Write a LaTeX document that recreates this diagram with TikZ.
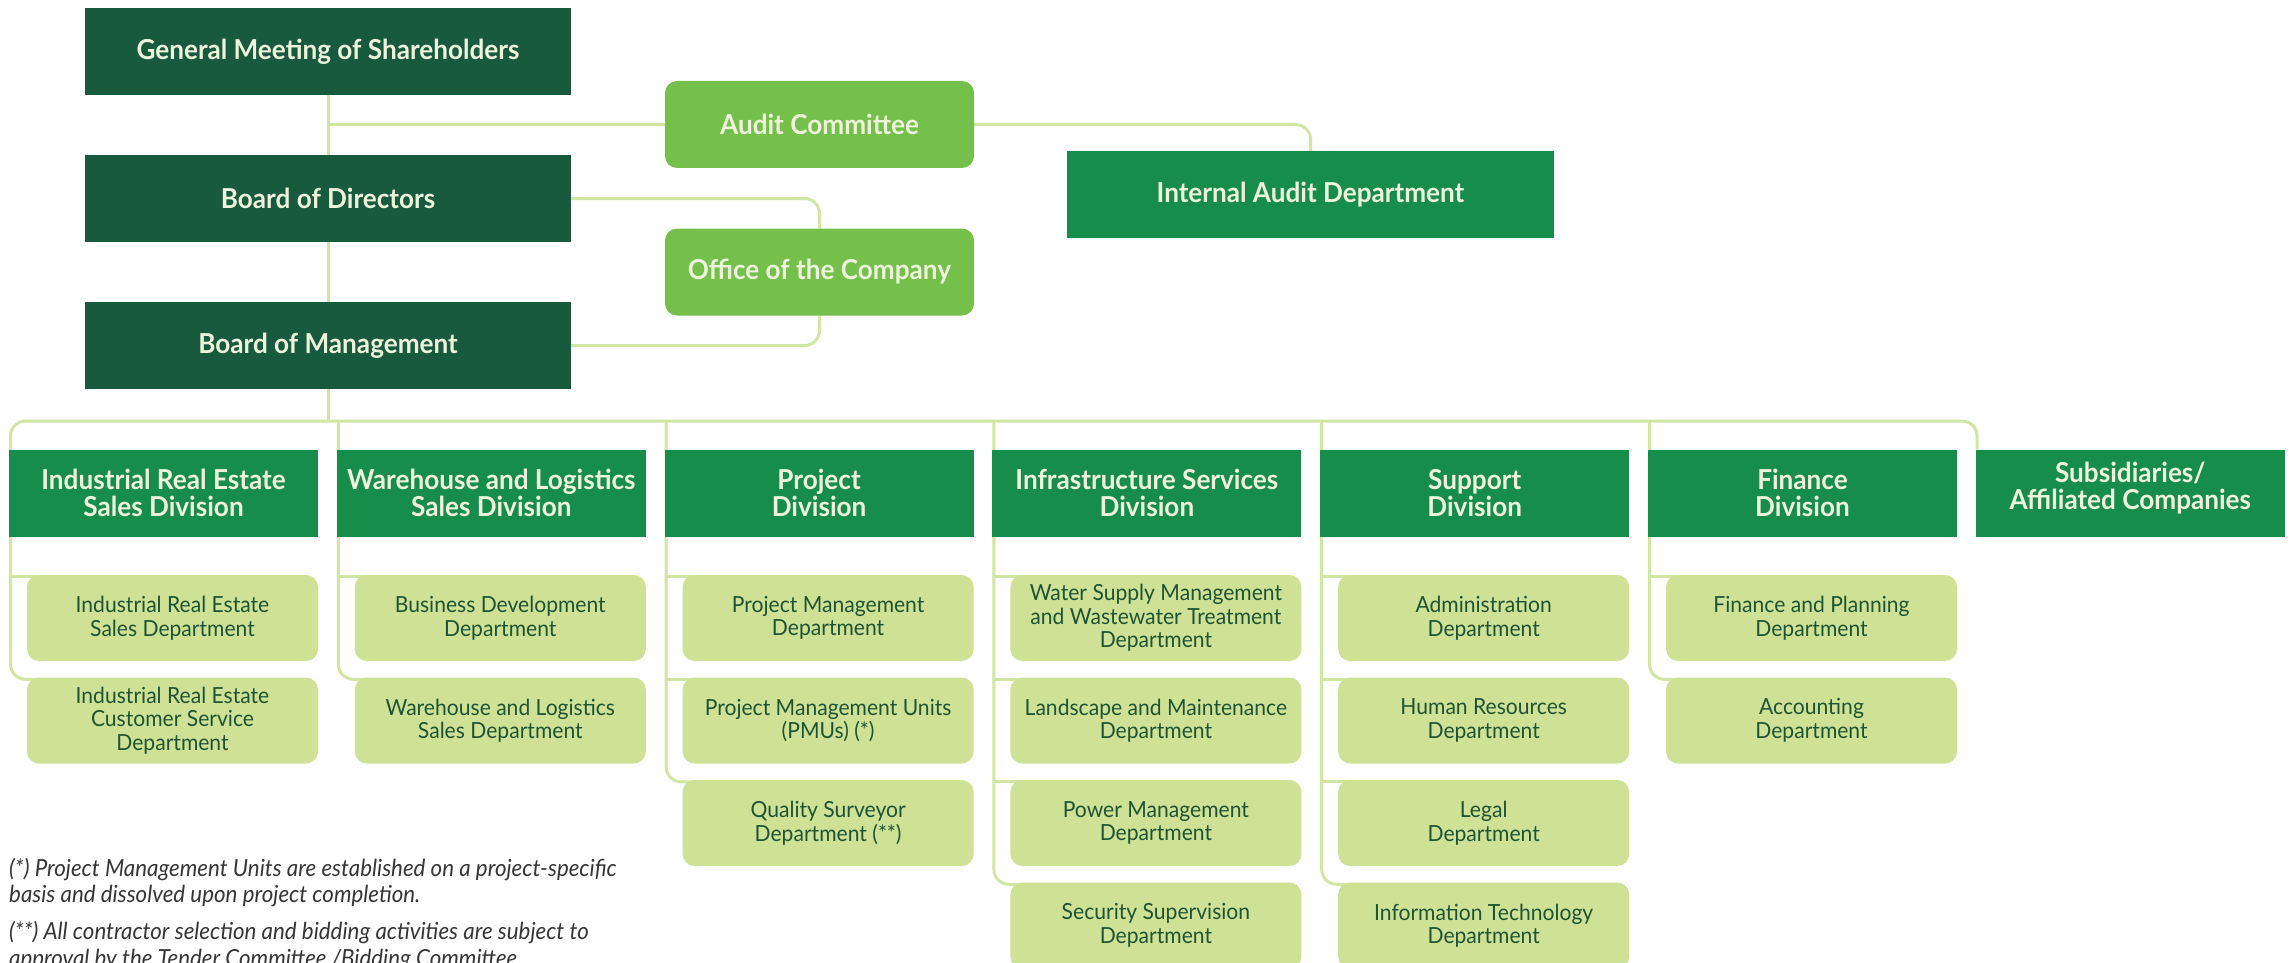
\documentclass[tikz,border=0pt]{standalone}
\usepackage{fontspec}
\setmainfont{Lato}[FakeStretch=0.95]
\usetikzlibrary{backgrounds}
\definecolor{darkg}{HTML}{185A3E}
\definecolor{midg}{HTML}{178D4C}
\definecolor{lightg}{HTML}{74C04A}
\definecolor{deptf}{HTML}{CEE194}
\definecolor{deptt}{HTML}{1E5436}
\definecolor{linec}{HTML}{D2E6A4}
\definecolor{cream}{HTML}{EEF3DC}
\definecolor{notec}{HTML}{363636}
\tikzset{
 topbox/.style={fill=darkg,text=cream,minimum width=486pt,minimum height=87pt,inner sep=0pt,font=\bfseries\fontsize{27.5}{30}\selectfont},
 sidebox/.style={fill=lightg,text=cream,rounded corners=12pt,minimum width=309pt,minimum height=87pt,inner sep=0pt,font=\bfseries\fontsize{27.5}{30}\selectfont},
 iadbox/.style={fill=midg,text=cream,minimum width=487pt,minimum height=87pt,inner sep=0pt,font=\bfseries\fontsize{27.5}{30}\selectfont},
 divbox/.style={fill=midg,text=cream,minimum width=309pt,minimum height=87pt,inner sep=0pt,align=center,font=\bfseries\fontsize{27.5}{27}\selectfont},
 deptbox/.style={fill=deptf,text=deptt,rounded corners=12pt,minimum width=291pt,minimum height=86pt,inner sep=0pt,align=center,font=\fontsize{22.2}{23.5}\selectfont},
 conn/.style={draw=linec,line width=3pt},
 note/.style={anchor=base west,inner sep=0pt,text=notec,font=\itshape\fontsize{23.5}{23}\selectfont}
}
\begin{document}
\begin{tikzpicture}[x=1pt,y=-1pt]
\useasboundingbox (0,0) rectangle (2295,963);

% bus coordinates
\coordinate (b1) at (10.5,421);
\coordinate (b2) at (338.3,421);
\coordinate (b3) at (666.1,421);
\coordinate (b4) at (993.9,421);
\coordinate (b5) at (1321.7,421);
\coordinate (b6) at (1649.5,421);

% top
\node[topbox] (gms) at (328,51.5) {General Meeting of Shareholders};
\node[topbox] (bod) at (328,198.5) {Board of Directors};
\node[topbox] (bom) at (328,345.5) {Board of Management};
\node[sidebox] (aud) at (819.5,124.5) {Audit Committee};
\node[sidebox] (ooc) at (819.5,272) {Office of the Company};
\node[iadbox] (iad) at (1310.5,194.5) {Internal Audit Department};

% divisions
\node[divbox] (dv1) at (163.5,493) {Industrial Real Estate\\Sales Division};
\node[divbox] (dv2) at (491.3,493) {Warehouse and Logistics\\Sales Division};
\node[divbox] (dv3) at (819.1,493) {Project\\Division};
\node[divbox] (dv4) at (1146.9,493) {Infrastructure Services\\Division};
\node[divbox] (dv5) at (1474.7,493) {Support\\Division};
\node[divbox] (dv6) at (1802.5,493) {Finance\\Division};
\node[divbox,text depth=14pt] (dv7) at (2130.3,493) {Subsidiaries/\\Affiliated Companies};

% departments
\node[deptbox] (d11) at (172.5,618) {Industrial Real Estate\\Sales Department};
\node[deptbox] (d12) at (172.5,720.5) {Industrial Real Estate\\Customer Service\\Department};
\node[deptbox] (d21) at (500.3,618) {Business Development\\Department};
\node[deptbox] (d22) at (500.3,720.5) {Warehouse and Logistics\\Sales Department};
\node[deptbox] (d31) at (828.1,618) {Project Management\\Department};
\node[deptbox] (d32) at (828.1,720.5) {Project Management Units\\(PMUs) (*)};
\node[deptbox] (d33) at (828.1,823) {Quality Surveyor\\Department (**)};
\node[deptbox] (d41) at (1155.9,618) {Water Supply Management\\and Wastewater Treatment\\Department};
\node[deptbox] (d42) at (1155.9,720.5) {Landscape and Maintenance\\Department};
\node[deptbox] (d43) at (1155.9,823) {Power Management\\Department};
\node[deptbox] (d44) at (1155.9,925.5) {Security Supervision\\Department};
\node[deptbox] (d51) at (1483.7,618) {Administration\\Department};
\node[deptbox] (d52) at (1483.7,720.5) {Human Resources\\Department};
\node[deptbox] (d53) at (1483.7,823) {Legal\\Department};
\node[deptbox] (d54) at (1483.7,925.5) {Information Technology\\Department};
\node[deptbox] (d61) at (1811.5,618) {Finance and Planning\\Department};
\node[deptbox] (d62) at (1811.5,720.5) {Accounting\\Department};

% footnotes
\node[note] (fn1) at (9,876) {(*) Project Management Units are established on a project-specific};
\node[note] (fn2) at (9,902.5) {basis and dissolved upon project completion.};
\node[note] (fn3) at (9,939) {(**) All contractor selection and bidding activities are subject to};
\node[note] (fn4) at (9,966) {approval by the Tender Committee /Bidding Committee};

% connectors (behind the boxes)
\begin{scope}[on background layer]
\fill[white] (0,0) rectangle (2295,963);
\draw[conn] (gms.south) -- (bod.north);
\draw[conn] (bod.south) -- (bom.north);
\draw[conn] (bom.south) -- (bom.south |- b1);
\draw[conn] (gms.south |- aud.west) -- (aud.west);
\draw[conn,rounded corners=15pt] (aud.east) -| (iad.north);
\draw[conn,rounded corners=15pt] (bod.east) -| (ooc.north);
\draw[conn,rounded corners=15pt] (ooc.south) |- (bom.east);
% bus with first trunk and subsidiaries drop
\draw[conn,rounded corners=15pt] ([xshift=12pt,yshift=-2pt]d12.north west) -| (b1) -| ([xshift=1.5pt]dv7.north west);
% trunks
\draw[conn,rounded corners=15pt] (b2) |- ([xshift=12pt,yshift=-2pt]d22.north west);
\draw[conn,rounded corners=15pt] (b3) |- ([xshift=12pt,yshift=-2pt]d33.north west);
\draw[conn,rounded corners=15pt] (b4) |- ([xshift=12pt,yshift=-2pt]d44.north west);
\draw[conn,rounded corners=15pt] (b5) |- ([xshift=12pt,yshift=-2pt]d54.north west);
\draw[conn,rounded corners=15pt] (b6) |- ([xshift=12pt,yshift=-2pt]d62.north west);
% branches
\foreach \d in {d11,d21,d31,d32,d41,d42,d43,d51,d52,d53,d61}
  \draw[conn] ([xshift=12pt,yshift=-2pt]\d.north west) -- ++(-28pt,0);
\end{scope}
\end{tikzpicture}
\end{document}
